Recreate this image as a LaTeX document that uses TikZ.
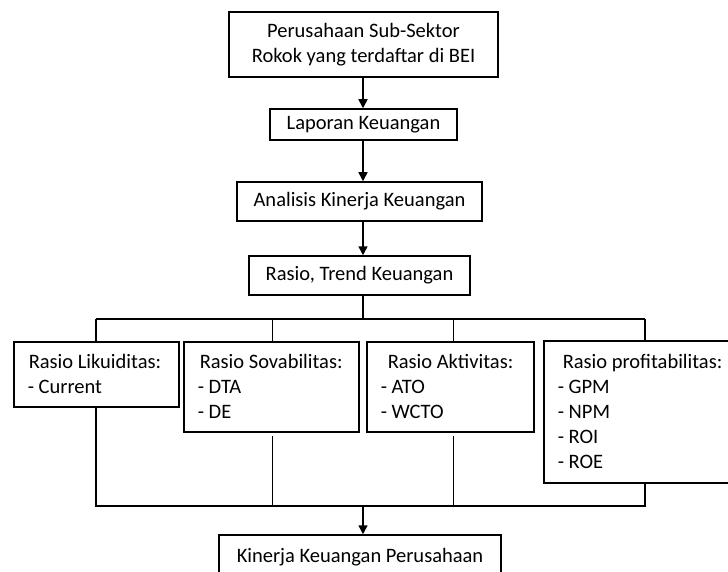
\documentclass[tikz,border=0pt]{standalone}
\usepackage{fontspec}
\setmainfont{Carlito}
\usetikzlibrary{arrows.meta}
\begin{document}
\begin{tikzpicture}[x=1pt,y=-1pt,
  line/.style={line width=1.5pt},
  arr/.style={line width=1.5pt,-{Triangle[length=9pt,width=9pt]}},
  box/.style={draw,line width=1.5pt,rectangle,inner sep=0pt,
    font=\fontsize{20.5}{25}\selectfont,align=center},
  lbox/.style={draw,line width=1.5pt,rectangle,inner xsep=14pt,inner ysep=0pt,
    anchor=north west,font=\fontsize{20.5}{25}\selectfont,align=flush left}]
\useasboundingbox (0,0) rectangle (728,572);
\clip (0,0) rectangle (728,572);
\fill[white] (0,0) rectangle (728,572);
% top chain
\node[box,minimum width=269,minimum height=65] (b1) at (363.5,44.5)
  {Perusahaan Sub-Sektor\\Rokok yang terdaftar di BEI};
\node[box,minimum width=187,minimum height=31] (b2) at (363.5,124.5) {Laporan Keuangan};
\node[box,minimum width=245,minimum height=39] (b3) at (359.5,201.5) {Analisis Kinerja Keuangan};
\node[box,minimum width=221,minimum height=39] (b4) at (359.5,275.5) {Rasio, Trend Keuangan};
% ratio boxes
\node[lbox,minimum height=65,text width=137] (rA) at (13,341)
  {\hspace*{1pt}Rasio Likuiditas:\\- Current};
\node[lbox,minimum height=90,text width=147] (rB) at (183,341)
  {\hspace*{2pt}Rasio Sovabilitas:\\- DTA\\- DE};
\node[lbox,minimum height=90,text width=139] (rC) at (366,341)
  {\hspace*{7pt}Rasio Aktivitas:\\- ATO\\- WCTO};
\node[lbox,minimum height=142,text width=172] (rD) at (543,340)
  {\hspace*{5pt}Rasio profitabilitas:\\- GPM\\- NPM\\- ROI\\- ROE};
% bottom box
\node[box,minimum width=282,minimum height=45] (bot) at (360,557.5) {Kinerja Keuangan Perusahaan};
% coordinates
\coordinate (trunk) at (363,0);
\coordinate (busL) at (96,319);
\coordinate (busR) at (645,319);
\coordinate (dB) at (272.5,0);
\coordinate (dC) at (453.5,0);
\coordinate (botL) at (96,506);
\coordinate (botR) at (645,506);
% arrows of the chain
\draw[arr] (b1.south -| trunk) -- (b2.north -| trunk);
\draw[arr] (b2.south -| trunk) -- (b3.north -| trunk);
\draw[arr] (b3.south -| trunk) -- (b4.north -| trunk);
% top bus
\draw[line] (b4.south -| trunk) -- (trunk |- busL);
\draw[line] (busL) -- (busR);
\draw[line] (busL) -- (busL |- rA.north);
\draw[line] (dB |- busL) -- (dB |- rB.north);
\draw[line] (dC |- busL) -- (dC |- rC.north);
\draw[line] (busR) -- (busR |- rD.north);
% bottom bus
\draw[line] (botL |- rA.south) -- (botL) -- (botR) -- (botR |- rD.south);
\draw[line] ([yshift=-3pt]dB |- rB.south) -- (dB |- botL);
\draw[line] ([yshift=-3pt]dC |- rC.south) -- (dC |- botL);
\draw[arr] (trunk |- botL) -- (trunk |- bot.north);
\end{tikzpicture}
\end{document}
